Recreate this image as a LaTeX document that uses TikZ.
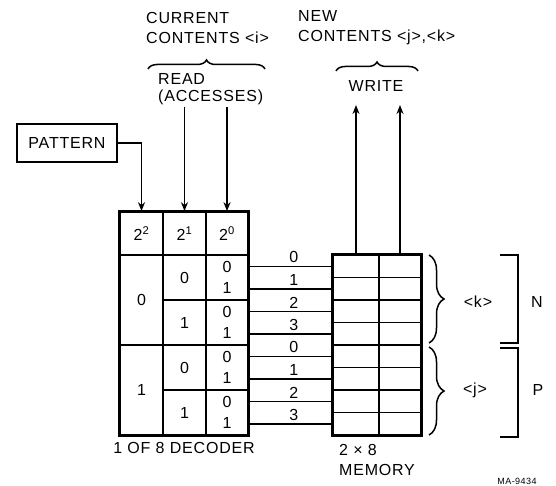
\documentclass[tikz,border=0pt]{standalone}
\usepackage{fontspec}
\setmainfont{Liberation Sans}[LetterSpace=5]
\usetikzlibrary{positioning,arrows.meta,calc,decorations.pathreplacing}

\begin{document}
\begin{tikzpicture}[x=1pt,y=-1pt,>={Stealth[length=9pt,width=7pt]},
  every node/.style={font=\fontsize{16}{20}\selectfont,inner sep=1pt},
  cell/.style={draw,line width=1.7pt,inner sep=0pt,minimum width=43pt,minimum height=45pt,font=\fontsize{16}{21}\selectfont},
  memcell/.style={draw,line width=1.7pt,inner sep=0pt,minimum height=22.5pt},
  brc/.style={decorate,decoration={brace,amplitude=#1},line width=1.5pt}]
\useasboundingbox (0,0) rectangle (556,486);

% labels above
\node[align=left,anchor=west] (cur) at (145,28) {CURRENT\\CONTENTS \textless i\textgreater};
\node[align=left,anchor=west,font=\fontsize{16}{17}\selectfont] (acc) at (157,89) {READ\\(ACCESSES)};
\node[align=left,anchor=west] (new) at (297,28) {NEW\\CONTENTS \textless j\textgreater,\textless k\textgreater};
\node (write) at (376,86) {WRITE};
\draw[brc=9pt] (148,69) -- (265,69);
\draw[brc=9pt] (336,71) -- (418,71);

\node[draw,line width=2pt,minimum width=100pt,minimum height=38pt] (pattern) at (67,143) {PATTERN};

% 1 of 8 decoder
\node[cell,minimum height=43pt] (h2) at (141.5,233.5) {2\textsuperscript{2}};
\node[cell,minimum height=43pt] (h1) at (184.5,233.5) {2\textsuperscript{1}};
\node[cell,minimum height=43pt,minimum width=42pt] (h0) at (227,233.5) {2\textsuperscript{0}};
\node[cell,minimum height=90pt] (a0) at (141.5,300) {0};
\node[cell,minimum height=90pt] (a1) at (141.5,390) {1};
\foreach \k/\v in {0/0,1/1,2/0,3/1} {
  \node[cell] (b\k) at (184.5,{277.5+45*\k}) {\v};
  \node[cell,minimum width=42pt,align=center] (c\k) at (227,{277.5+45*\k}) {0\\1};
}
\draw[line width=2.3pt] (h2.north west) rectangle (c3.south east);
\node (dec) at (184,448) {1 OF 8 DECODER};

% 2 x 8 memory
\foreach \i in {0,...,7} {
  \node[memcell,minimum width=46pt] (ml\i) at (356,{266.25+22.5*\i}) {};
  \node[memcell,minimum width=42pt] (mr\i) at (400,{266.25+22.5*\i}) {};
}
\draw[line width=2.3pt] (ml0.north west) rectangle (mr7.south east);
\node[align=left,anchor=west] (mem) at (338,460) {2 × 8\\MEMORY};

\foreach \i/\n/\k in {0/0/0,1/1/0,2/2/1,3/3/1,4/0/2,5/1/2,6/2/3,7/3/3}
  \draw[line width=1.5pt] (c\k.east |- ml\i.west) -- node[above=1.5pt,pos=0.54]{\n} (ml\i.west);

% read / write / pattern
\coordinate (r1) at (184.5,107);
\coordinate (r0) at (227,107);
\coordinate (w1) at (356,105);
\coordinate (w0) at (400,105);
\draw[->,line width=1.6pt] (r1) -- (h1.north);
\draw[->,line width=1.6pt] (r0) -- (h0.north);
\draw[->,line width=1.6pt] (ml0.north) -- (w1);
\draw[->,line width=1.6pt] (mr0.north) -- (w0);
\draw[->,line width=1.6pt] (pattern.east) -| (h2.north);

% halves
\draw[brc=15pt] (429,255) -- (429,343);
\draw[brc=15pt] (429,347) -- (429,435);
\node (klab) at (478,302) {\textless k\textgreater};
\node (jlab) at (475,390) {\textless j\textgreater};
\draw[line width=1.8pt] (500,255) -- (518,255) -- (518,343) -- (500,343);
\draw[line width=1.8pt] (500,348) -- (518,348) -- (518,437) -- (500,437);
\node (nlab) at (537,302) {N};
\node (plab) at (538,390) {P};

\node[font=\fontsize{9}{10}\selectfont] (fig) at (517,481) {MA-9434};
\end{tikzpicture}
\end{document}
